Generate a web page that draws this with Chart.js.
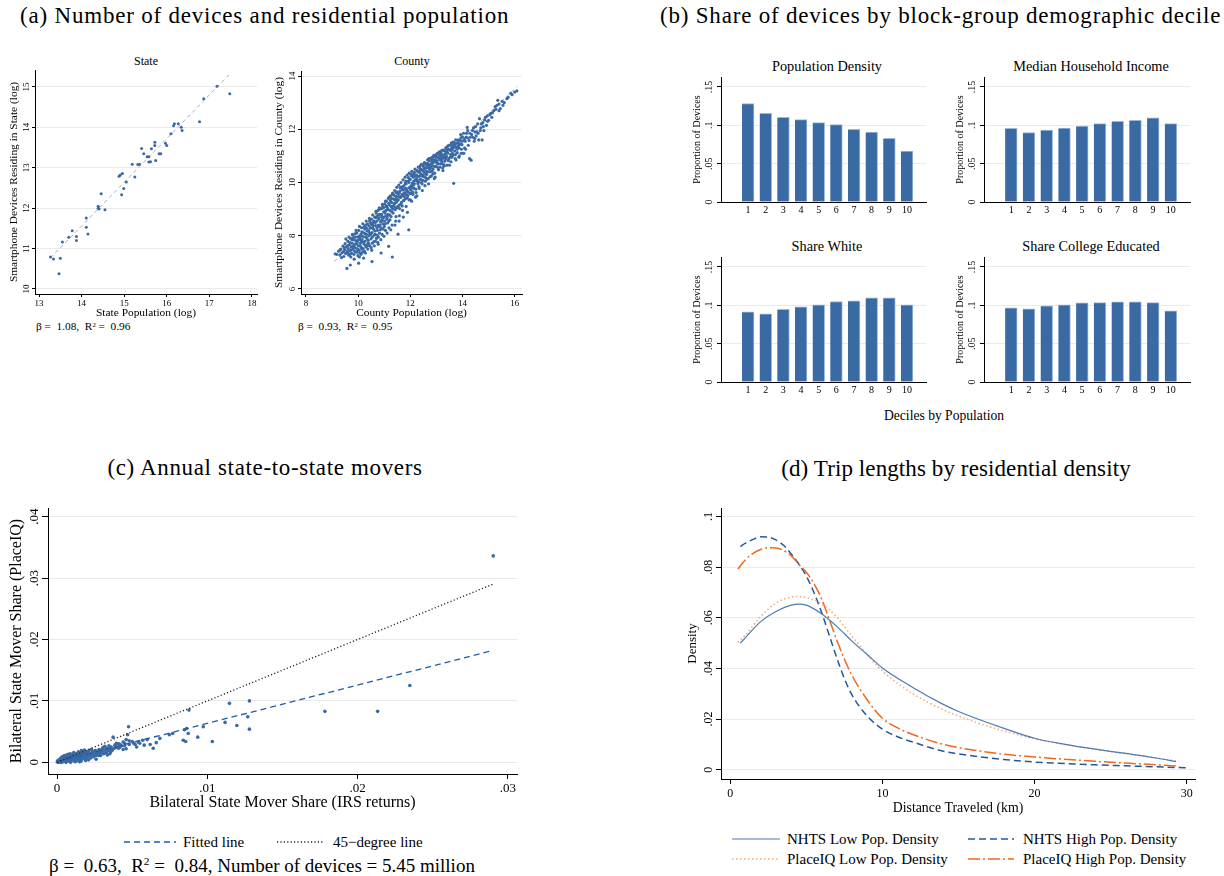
<!DOCTYPE html>
<html>
<head>
<meta charset="utf-8">
<script src="https://cdn.jsdelivr.net/npm/chart.js@4.4.0/dist/chart.umd.min.js"></script>
<style>
body{margin:0;background:#fff;width:1224px;height:876px;position:relative;overflow:hidden;font-family:"Liberation Serif","Times New Roman",serif;color:#000}
.t{position:absolute;white-space:nowrap;line-height:1;transform:translateY(-50%)}
.c{position:absolute;white-space:nowrap;line-height:1;transform:translate(-50%,-50%)}
canvas{position:absolute}
svg{position:absolute}
sup{font-size:60%;vertical-align:0.55em;line-height:0}
</style>
</head>
<body>
<div class="t" style="left:20px;top:15px;font-size:23px;letter-spacing:.8px">(a) Number of devices and residential population</div>
<div class="t" style="left:660px;top:15px;font-size:23px;letter-spacing:.8px">(b) Share of devices by block-group demographic decile</div>
<div class="c" style="left:146px;top:61px;font-size:12px">State</div>
<div class="c" style="left:412px;top:61px;font-size:12px">County</div>
<div class="t" style="left:36px;top:327px;font-size:11.3px">β = &nbsp;1.08, &nbsp;R<sup>2</sup> = &nbsp;0.96</div>
<div class="t" style="left:298px;top:327px;font-size:11.3px">β = &nbsp;0.93, &nbsp;R<sup>2</sup> = &nbsp;0.95</div>
<div class="c" style="left:827px;top:66px;font-size:14.3px">Population Density</div>
<div class="c" style="left:1091px;top:66px;font-size:14.3px">Median Household Income</div>
<div class="c" style="left:827px;top:246px;font-size:14.3px">Share White</div>
<div class="c" style="left:1091px;top:246px;font-size:14.3px">Share College Educated</div>
<div class="c" style="left:944px;top:416px;font-size:13.6px">Deciles by Population</div>
<div class="c" style="left:265px;top:467px;font-size:23px;letter-spacing:.65px">(c) Annual state-to-state movers</div>
<div class="c" style="left:956px;top:468px;font-size:23px;letter-spacing:.1px">(d) Trip lengths by residential density</div>

<svg style="left:124px;top:837px" width="52" height="10"><line x1="0" y1="5" x2="52" y2="5" stroke="#1f5da8" stroke-width="1.3" stroke-dasharray="6,4"/></svg>
<div class="t" style="left:183px;top:842px;font-size:15px">Fitted line</div>
<svg style="left:277px;top:837px" width="46" height="10"><line x1="0" y1="5" x2="46" y2="5" stroke="#222" stroke-width="1.3" stroke-dasharray="1.2,2.2"/></svg>
<div class="t" style="left:333px;top:842px;font-size:15px">45−degree line</div>
<div class="t" style="left:49px;top:865px;font-size:19px">β = &nbsp;0.63, &nbsp;R<sup>2</sup> = &nbsp;0.84, Number of devices = 5.45 million</div>

<svg style="left:732px;top:834px" width="48" height="10"><line x1="0" y1="5" x2="48" y2="5" stroke="#4b7bb5" stroke-width="1.2"/></svg>
<div class="t" style="left:787px;top:839px;font-size:15px">NHTS Low Pop. Density</div>
<svg style="left:968px;top:834px" width="46" height="10"><line x1="0" y1="5" x2="46" y2="5" stroke="#1f5aa0" stroke-width="1.5" stroke-dasharray="7,4"/></svg>
<div class="t" style="left:1023px;top:839px;font-size:15px">NHTS High Pop. Density</div>
<svg style="left:732px;top:854px" width="48" height="10"><line x1="0" y1="5" x2="48" y2="5" stroke="#f5a878" stroke-width="1.5" stroke-dasharray="1.5,2.5"/></svg>
<div class="t" style="left:787px;top:859px;font-size:15px">PlaceIQ Low Pop. Density</div>
<svg style="left:968px;top:854px" width="46" height="10"><line x1="0" y1="5" x2="46" y2="5" stroke="#f0681c" stroke-width="1.5" stroke-dasharray="12,3,2,3"/></svg>
<div class="t" style="left:1023px;top:859px;font-size:15px">PlaceIQ High Pop. Density</div>

<script>
const SERIF = '"Liberation Serif", "Times New Roman", serif';
const BLUE = '#3a6aa4';

// (a) state and county: log population vs log devices
const statePoints = [[13.27,10.79],[13.34,10.74],[13.50,10.76],[13.47,10.38],[13.55,11.16],[13.70,11.28],[13.78,11.44],[13.88,11.30],[13.88,11.20],[14.11,11.76],[14.11,11.53],[14.15,11.36],[14.39,12.05],[14.39,12.00],[14.41,11.98],[14.46,12.36],[14.55,11.96],[14.88,12.79],[14.91,12.82],[14.96,12.86],[14.94,12.33],[14.99,12.49],[15.05,12.65],[15.25,12.77],[15.19,13.09],[15.32,13.08],[15.36,13.09],[15.41,13.48],[15.46,13.35],[15.54,13.27],[15.58,13.27],[15.58,13.14],[15.62,13.15],[15.64,13.47],[15.72,13.63],[15.72,13.55],[15.74,13.18],[15.82,13.35],[15.86,13.35],[15.97,13.61],[16.00,13.55],[16.10,13.84],[16.16,14.04],[16.18,14.09],[16.27,14.09],[16.34,14.00],[16.36,13.92],[16.77,14.14],[16.87,14.71],[17.18,15.02],[17.48,14.83]];
const stateFit = [[13.27,10.77],[17.46,15.30]];
const stateXTicks = [13,14,15,16,17,18];
const stateYTicks = [10,11,12,13,14,15];

const countyPoints = [[9.12,7.32],[9.18,7.30],[9.25,7.42],[9.30,7.28],[9.31,7.47],[9.34,7.50],[9.38,7.36],[9.42,7.61],[9.45,7.22],[9.48,7.47],[9.50,7.70],[9.52,7.33],[9.55,7.58],[9.57,6.77],[9.58,7.41],[9.60,7.80],[9.62,7.52],[9.64,7.27],[9.65,7.95],[9.66,7.66],[9.68,7.44],[9.70,6.90],[9.71,7.90],[9.72,7.20],[9.73,7.58],[9.75,7.35],[9.77,7.72],[9.78,8.05],[9.79,7.49],[9.80,8.02],[9.82,7.62],[9.84,7.30],[9.85,7.12],[9.86,7.84],[9.88,7.55],[9.88,7.68],[9.90,7.95],[9.91,7.40],[9.92,8.20],[9.93,7.70],[9.95,8.10],[9.96,7.52],[9.97,7.77],[9.98,7.83],[9.99,7.25],[10.00,7.63],[10.02,6.97],[10.02,8.20],[10.04,7.45],[10.05,8.35],[10.06,7.92],[10.07,7.85],[10.08,7.71],[10.10,8.05],[10.11,7.30],[10.12,7.55],[10.13,8.30],[10.15,7.85],[10.16,7.98],[10.17,7.38],[10.18,8.45],[10.19,8.12],[10.21,7.16],[10.21,7.96],[10.23,7.68],[10.24,7.42],[10.25,8.25],[10.26,8.08],[10.27,7.80],[10.29,8.40],[10.30,7.58],[10.31,8.55],[10.32,8.05],[10.34,7.90],[10.35,8.18],[10.36,8.45],[10.37,7.50],[10.38,7.72],[10.40,8.18],[10.42,8.00],[10.43,8.65],[10.44,8.55],[10.45,7.62],[10.46,8.28],[10.47,8.30],[10.49,7.88],[10.50,7.55],[10.51,8.62],[10.53,7.03],[10.53,8.12],[10.55,7.95],[10.56,8.78],[10.57,8.48],[10.58,8.38],[10.59,8.25],[10.61,7.78],[10.62,7.62],[10.63,8.70],[10.65,8.05],[10.66,8.50],[10.67,8.38],[10.68,8.92],[10.69,8.85],[10.70,7.90],[10.72,8.55],[10.74,8.20],[10.75,7.75],[10.76,8.95],[10.77,7.68],[10.78,8.40],[10.79,8.62],[10.80,8.68],[10.81,9.05],[10.82,8.10],[10.84,9.00],[10.86,8.52],[10.87,7.85],[10.88,7.35],[10.88,8.30],[10.90,8.80],[10.91,8.72],[10.92,8.60],[10.93,9.18],[10.94,9.10],[10.96,8.25],[10.98,8.90],[10.99,7.98],[11.00,8.70],[11.02,9.20],[11.03,8.85],[11.04,8.45],[11.05,9.30],[11.06,8.95],[11.08,9.30],[11.10,8.62],[11.11,8.10],[11.12,9.05],[11.14,8.80],[11.15,8.98],[11.16,9.40],[11.17,7.60],[11.18,8.55],[11.19,9.45],[11.20,9.15],[11.22,8.95],[11.24,9.50],[11.25,8.22],[11.26,8.72],[11.27,9.10],[11.28,9.25],[11.30,9.05],[11.31,7.20],[11.32,9.60],[11.33,9.55],[11.34,8.85],[11.36,9.38],[11.38,9.15],[11.39,9.22],[11.40,9.70],[11.41,8.40],[11.42,8.98],[11.44,9.48],[11.46,9.25],[11.48,9.82],[11.49,9.65],[11.50,9.05],[11.51,9.32],[11.52,9.58],[11.53,8.06],[11.54,9.35],[11.56,9.90],[11.57,8.55],[11.58,9.15],[11.60,9.68],[11.62,9.45],[11.63,9.45],[11.64,10.00],[11.65,9.82],[11.66,9.25],[11.68,9.78],[11.70,9.55],[11.72,10.10],[11.73,8.70],[11.74,9.32],[11.75,9.58],[11.76,9.88],[11.78,9.62],[11.80,10.20],[11.81,9.98],[11.82,9.40],[11.84,9.95],[11.86,9.72],[11.87,9.68],[11.88,10.28],[11.89,8.88],[11.90,9.50],[11.92,10.05],[11.94,8.22],[11.94,9.80],[11.96,10.35],[11.97,10.10],[11.98,9.58],[11.99,9.82],[12.00,10.12],[12.03,9.88],[12.05,9.30],[12.06,10.42],[12.09,9.65],[12.12,10.20],[12.12,9.90],[12.14,10.30],[12.15,9.95],[12.18,10.50],[12.21,9.75],[12.24,10.28],[12.25,9.50],[12.27,10.05],[12.28,10.08],[12.30,10.58],[12.33,9.85],[12.35,10.55],[12.36,10.38],[12.39,10.12],[12.42,10.68],[12.44,10.25],[12.45,9.95],[12.46,9.70],[12.48,10.45],[12.51,10.22],[12.54,10.75],[12.57,10.05],[12.58,10.72],[12.60,10.55],[12.62,10.42],[12.63,10.30],[12.66,10.85],[12.69,10.15],[12.70,9.95],[12.72,10.65],[12.75,10.40],[12.78,10.92],[12.80,10.60],[12.81,10.25],[12.82,10.88],[12.84,10.72],[12.87,10.50],[12.90,11.02],[12.93,10.35],[12.95,10.20],[12.96,10.82],[12.98,10.78],[13.00,10.60],[13.04,11.10],[13.08,10.48],[13.10,11.05],[13.12,10.90],[13.16,10.70],[13.18,10.95],[13.20,11.20],[13.24,10.55],[13.25,10.45],[13.28,11.00],[13.32,10.80],[13.36,11.30],[13.38,11.25],[13.40,10.65],[13.40,11.15],[13.44,11.10],[13.48,10.90],[13.50,10.65],[13.52,11.40],[13.56,10.78],[13.58,11.30],[13.60,11.22],[13.62,11.40],[13.64,11.02],[13.66,9.97],[13.68,11.50],[13.72,10.90],[13.75,10.85],[13.76,11.32],[13.78,11.48],[13.80,11.12],[13.84,11.60],[13.88,11.00],[13.90,11.58],[13.92,11.45],[13.96,11.25],[14.00,11.72],[14.02,11.10],[14.05,11.10],[14.10,11.55],[14.15,11.85],[14.18,12.07],[14.22,11.40],[14.27,10.90],[14.30,11.70],[14.33,10.84],[14.38,11.95],[14.45,11.55],[14.47,11.65],[14.50,12.10],[14.55,11.90],[14.62,11.60],[14.65,12.40],[14.70,12.05],[14.75,11.60],[14.78,12.25],[14.85,12.35],[14.92,12.15],[15.00,12.34],[15.08,12.60],[15.20,12.70],[15.32,12.90],[15.35,13.09],[15.45,12.78],[15.60,13.00],[16.08,13.44],
[9.47,7.55],[9.53,7.88],[9.61,7.35],[9.67,7.75],[9.74,7.47],[9.81,7.92],[9.87,7.42],[9.94,7.80],[10.01,7.48],[10.03,7.98],[10.09,7.60],[10.14,8.15],[10.20,7.75],[10.22,8.32],[10.28,7.65],[10.33,8.28],[10.39,7.82],[10.41,8.38],[10.48,8.05],[10.52,8.42],[10.54,7.72],[10.60,8.55],[10.64,8.18],[10.71,8.72],[10.73,8.02],[10.79,8.35],[10.83,8.80],[10.85,8.22],[10.89,8.55],[10.95,8.45],[10.97,9.05],[11.01,8.55],[11.07,8.75],[11.09,9.12],[11.13,8.48],[11.21,8.78],[11.23,9.32],[11.29,8.90],[11.35,9.12],[11.37,9.52],[11.43,9.05],[11.45,8.72],[11.47,9.40],[11.55,9.48],[11.59,9.02],[11.61,9.80],[11.67,9.50],[11.69,9.12],[11.71,9.85],[11.77,9.35],[11.79,9.75],[11.83,10.05],[11.85,9.55],[11.91,9.65],[11.93,10.18],[11.95,9.35],[12.01,9.72],[12.04,10.25],[12.08,9.98],[12.10,9.55],[12.16,10.38],[12.19,10.08],[12.22,9.62],[12.26,10.45],[12.31,10.22],[12.34,9.78],[12.38,10.62],[12.41,10.32],[12.47,10.08],[12.50,10.62],[12.53,10.38],[12.56,9.88],[12.61,10.68],[12.64,10.12],[12.68,10.55],[12.73,10.82],[12.76,10.22],[12.79,10.70],[12.85,10.95],[12.89,10.62],[12.92,10.15],[12.97,10.95],[13.02,10.82],[13.06,10.55],[13.11,11.15],[13.14,10.58],[13.19,10.85],[13.22,11.05],[13.27,10.68],[13.31,11.18],[13.35,10.95],[13.42,11.35],[13.46,10.82],[13.54,11.20],[13.59,10.95],[13.63,11.52],[13.70,11.18],[13.74,11.60],[13.82,11.35],[13.86,10.95],[13.94,11.68],[13.98,11.42],[14.04,11.85],[14.08,11.30],[14.13,11.70],[14.20,11.95],[14.25,11.58],[14.35,11.80],[14.42,12.05],[14.52,11.75],[14.58,12.20],[14.68,11.95],[14.80,12.10],[14.88,12.45],[14.96,12.30],[15.12,12.45],[15.25,12.85],[15.40,12.95],[15.52,13.05],[15.75,13.20],[15.90,13.30],
[9.95,7.38],[10.05,7.20],[10.15,7.50],[10.28,7.35],[10.40,7.70],[10.52,7.45],[10.66,7.80],[10.78,7.95],[10.92,8.05],[11.05,8.20],[11.18,8.30],[11.30,8.40],[11.44,8.55],[11.58,8.75],[11.70,8.95],[11.84,9.10],[12.00,9.35],[12.20,9.45],
[9.36,7.18],[9.44,7.40],[9.59,7.62],[9.69,7.30],[9.76,7.85],[9.83,7.56],[9.89,8.08],[10.00,7.95],[10.06,7.36],[10.13,7.78],[10.19,7.52],[10.26,8.36],[10.31,7.95],[10.36,7.62],[10.44,8.10],[10.48,8.48],[10.55,8.30],[10.62,8.02],[10.67,8.68],[10.72,8.30],[10.77,8.78],[10.84,8.40],[10.90,9.02],[10.95,8.68],[11.00,8.35],[11.06,9.10],[11.12,8.70],[11.17,9.22],[11.22,8.60],[11.28,9.40],[11.33,9.00],[11.40,9.35],[11.45,9.62],[11.52,9.10],[11.58,9.60],[11.64,9.20],[11.70,9.72],[11.76,9.48],[11.82,9.78],[11.88,9.42],[11.95,10.00],[12.02,9.60],[12.08,10.30],[12.14,9.78],[12.20,10.25],[12.29,9.95],[12.37,10.45],[12.43,10.00],[12.52,10.55],[12.59,10.18],[12.67,10.72],[12.74,10.50],[12.83,10.42],[12.91,10.85],[13.00,10.95],[13.07,10.70],[13.15,11.02],[13.23,10.90],[13.30,10.62],[13.39,10.98],[13.47,11.25],[13.55,11.05],[13.65,11.30],[13.73,11.05],[13.85,11.40],[13.95,11.10],
[12.02,10.30],[12.07,9.80],[12.13,10.05],[12.17,10.28],[12.23,10.15],[12.29,10.40],[12.32,10.02],[12.37,10.25],[12.40,10.50],[12.43,10.48],[12.49,10.28],[12.52,10.70],[12.55,10.50],[12.59,10.32],[12.64,10.62],[12.67,10.40],[12.71,10.90],[12.74,10.62],[12.77,10.55],[12.83,10.80],[12.86,10.32],[12.88,10.75],[12.94,10.60],[12.99,11.05],[13.03,10.72],[13.06,10.95],[13.13,10.85],[13.17,11.12],[13.21,10.78],[13.26,11.22],[13.29,10.92],[13.34,11.08],[13.37,10.88],[13.43,11.22],[13.47,11.40],[13.53,10.95],[13.57,11.48],[13.61,11.10],[13.67,11.35],[13.71,11.42],[13.79,11.25],[13.83,11.50],[13.87,11.30],[13.93,11.80],[13.99,11.55],[14.07,11.62],[14.12,11.25],[14.19,11.68],[14.28,11.85],[14.40,11.70],[14.48,11.90],[14.60,11.85],[14.72,12.20],[14.82,11.95],[14.95,12.50],[15.05,12.55],[15.15,12.62],[15.28,12.75],[15.40,12.70],[15.55,12.90],[15.70,13.15],[15.85,13.35],[16.00,13.40]];
const countyFit = [[9.08,7.03],[16.10,13.61]];
const countyXTicks = [8,10,12,14,16];
const countyYTicks = [6,8,10,12,14];

// (b) share of devices by decile
const deciles = [1,2,3,4,5,6,7,8,9,10];
const popDensity = [.1283,.1157,.1104,.1074,.1035,.1009,.0948,.0913,.0830,.0665];
const medIncome = [.0961,.0904,.0939,.0965,.0991,.1022,.1052,.1065,.1096,.1022];
const shareWhite = [.0914,.0888,.0949,.0980,.1006,.1050,.1058,.1097,.1097,.1006];
const shareCollege = [.0966,.0953,.0993,.1006,.1032,.1036,.1045,.1045,.1036,.0927];
const shareTicks = [0,.05,.1,.15];
const shareLabels = ['0','.05','.1','.15'];

// (c) bilateral mover shares (IRS, PlaceIQ)
const moverPoints = [[.00002,.00005],[.00005,.0001],[.00008,.00002],[.0001,.0002],[.00012,.00008],[.00015,.0003],[.00018,.00012],[.0002,.0005],[.00022,.00018],[.00025,.0001],[.00028,.0004],[.0003,.00022],[.00033,.0006],[.00036,.00015],[.0004,.0008],[.00042,.0003],[.00045,.0005],[.0005,.0002],[.00052,.0007],[.00055,.00035],[.0006,.001],[.00062,.0004],[.00065,.00015],[.0007,.0006],[.00072,.0009],[.00075,.0003],[.0008,.0005],[.00082,.0011],[.00085,.0002],[.0009,.0007],[.00095,.0004],[.001,.0009],[.00102,.0013],[.00105,.0005],[.0011,.0003],[.00115,.0008],[.0012,.0011],[.00122,.0006],[.00128,.0002],[.0013,.0009],[.00135,.0013],[.0014,.0007],[.00145,.0004],[.0015,.001],[.00155,.0015],[.0016,.0008],[.00165,.0005],[.0017,.0012],[.00175,.0009],[.0018,.0016],[.00185,.0006],[.0019,.0011],[.00195,.0014],[.002,.0008],[.0021,.0013],[.00212,.0019],[.0022,.001],[.00225,.0007],[.0023,.0015],[.00235,.0012],[.0024,.0018],[.00245,.0009],[.0025,.0014],[.0026,.0011],[.00265,.0017],[.0027,.0013],[.0028,.0021],[.00285,.0015],[.0029,.0011],[.003,.0018],[.00305,.0024],[.0031,.0014],[.0032,.002],[.00322,.0016],[.0033,.0023],[.00335,.0012],[.0034,.0019],[.0035,.0022],[.00355,.0017],[.0036,.0025],[.0037,.0021],[.00373,.0041],[.00385,.0028],[.0039,.0026],[.004,.0024],[.0041,.003],[.0042,.0029],[.0043,.0027],[.0044,.0033],[.0045,.0031],[.0046,.0037],[.0047,.0045],[.0048,.0029],[.00476,.0058],[.0046,.0022],[.0044,.0021],[.0041,.0023],[.0026,.0005],[.0021,.0004],[.0016,.0002],[.0012,.0001],[.0006,.0000],[.0003,.0000],[.0009,.0000],[.0015,.0001],[.0019,.0003],[.0052,.0029],[.005,.0034],[.0053,.0025],[.0055,.0031],[.0057,.0036],[.006,.0037],[.0062,.0029],[.0064,.0023],[.0066,.0032],[.00684,.0039],[.00747,.0045],[.00769,.0047],[.00847,.0053],[.00856,.0034],[.00862,.0055],[.0084,.0036],[.00873,.0047],[.00878,.0085],[.00936,.0041],[.00973,.0058],[.01033,.0034],[.01118,.0065],[.01147,.0096],[.01196,.006],[.01269,.0074],[.0128,.01],[.0128,.0054],[.01782,.0083],[.02133,.0083],[.02347,.0125],[.02902,.0336],
[.00004,.00025],[.00007,.00015],[.00011,.00035],[.00014,.00005],[.00017,.00045],[.00021,.0003],[.00024,.00065],[.00027,.0002],[.00031,.0005],[.00034,.0009],[.00038,.0004],[.00041,.00012],[.00044,.0007],[.00048,.0011],[.00051,.00045],[.00054,.0009],[.00058,.00025],[.00061,.0007],[.00064,.0012],[.00068,.0004],[.00071,.0008],[.00074,.0013],[.00078,.0006],[.00081,.00025],[.00084,.0009],[.00088,.0014],[.00091,.0005],[.00094,.001],[.00098,.0007],[.00108,.0012],[.00112,.0016],[.00118,.0004],[.00125,.0014],[.00132,.0006],[.00138,.0011],[.00142,.0017],[.00148,.0008],[.00152,.0013],[.00158,.0011],[.00162,.0019],[.00168,.0009],[.00172,.0015],[.00178,.0012],[.00182,.002],[.00188,.0009],[.00192,.0017],[.00198,.0011],[.00205,.0016],[.00215,.0011],[.00228,.0021],[.00238,.0015],[.00248,.0012],[.00255,.0019],[.00262,.0015],[.00272,.0018],[.00278,.0011],[.00292,.0016],[.00298,.0021],[.00312,.0019],[.00318,.0026],[.00328,.0015],[.00345,.0027],[.00352,.0014],[.00365,.0019],[.0038,.0023],[.00395,.0031],[.0042,.0025],[.0045,.0027],[.0048,.0035],[.0051,.0031],[.0054,.0033],[.0058,.0028]];
const moverFit = [[0,.0001],[.029,.0182]];
const moverDiag = [[0,0],[.029,.029]];
const moverXTicks = [0,.01,.02,.03];
const moverXLabels = ['0','.01','.02','.03'];
const moverYTicks = [0,.01,.02,.03,.04];
const moverYLabels = ['0','.01','.02','.03','.04'];

// (d) trip length densities
const nhtsLowKm = [0.66,1,2,3,4,4.5,5,6,7,8,9,10,12,14,15,16,18,20,22,24,26,28,29.3];
const nhtsLow = [.0500,.0522,.0585,.0625,.0650,.0654,.0650,.0616,.0566,.0508,.0455,.0402,.0325,.0258,.0230,.0206,.0163,.0124,.0100,.0081,.0064,.0046,.0032];
const nhtsHighKm = [0.66,1,1.5,2,2.5,3,3.5,4,4.5,5,5.5,6,6.5,7,7.5,8,9,10,11,12,14,16,18,20,22,24,26,28,30];
const nhtsHigh = [.0882,.0895,.0910,.0920,.0919,.0908,.0887,.0853,.0813,.0765,.0700,.0622,.0532,.0442,.0360,.0295,.0212,.0160,.0130,.0109,.0073,.0054,.0040,.0030,.0024,.0019,.0015,.0011,.0007];
const placeLowKm = [0.5,1,2,3,4,4.5,5,6,7,8,9,10,12,14,16,18,20,22,24,26,28,29.5];
const placeLow = [.0503,.0532,.0605,.0658,.0682,.0684,.0680,.0655,.0603,.0527,.0455,.0390,.0300,.0237,.0190,.0153,.0122,.0099,.0080,.0063,.0046,.0033];
const placeHighKm = [0.5,1,1.5,2,2.5,3,3.5,4,4.5,5,5.5,6,6.5,7,7.5,8,9,10,11,12,14,16,18,20,22,24,26,28,29.5];
const placeHigh = [.0793,.0830,.0855,.0870,.0877,.0876,.0866,.0846,.0812,.0780,.0735,.0675,.0595,.0512,.0437,.0372,.0276,.0203,.0165,.0139,.0100,.0077,.0061,.0050,.0041,.0033,.0026,.0019,.0014];
const tripXTicks = [0,10,20,30];
const tripYTicks = [0,.02,.04,.06,.08,.1];
const tripYLabels = ['0','.02','.04','.06','.08','.1'];

// rotated y tick labels, like Stata
const vTicks = {
  id: 'vTicks',
  afterDraw(chart, args, o) {
    const s = chart.scales.y;
    if (!s || !o.size) return;
    const ctx = chart.ctx;
    ctx.save();
    ctx.font = o.size + 'px ' + SERIF;
    ctx.fillStyle = '#000';
    ctx.textAlign = 'center';
    ctx.textBaseline = 'alphabetic';
    s.ticks.forEach(t => {
      ctx.save();
      ctx.translate(s.right - o.off, s.getPixelForValue(t.value));
      ctx.rotate(-Math.PI / 2);
      ctx.fillText(t.label, 0, 0);
      ctx.restore();
    });
    ctx.restore();
  }
};
Chart.register(vTicks);

const pts = arr => arr.map(p => ({ x: p[0], y: p[1] }));
const xy = (xs, ys) => xs.map((v, i) => ({ x: v, y: ys[i] }));

function draw(b, type, datasets, xs, ys) {
  const c = document.createElement('canvas');
  const w = b.right + b.pr - b.cl, h = b.ay + b.xh - b.ct;
  c.width = w; c.height = h;
  c.style.left = b.cl + 'px'; c.style.top = b.ct + 'px';
  c.style.width = w + 'px'; c.style.height = h + 'px';
  document.body.appendChild(c);
  const yw = b.ax - b.cl;
  const x = {
    type: 'linear', min: xs.min, max: xs.max,
    afterFit: s => { s.height = b.xh; },
    afterBuildTicks: s => { s.ticks = xs.ticks.map(v => ({ value: v })); },
    ticks: { callback: (v, i) => xs.labels[i], font: { family: SERIF, size: xs.fs }, color: '#000', padding: xs.pad, maxRotation: 0, minRotation: 0, autoSkip: false },
    grid: { drawOnChartArea: false, drawTicks: xs.tl > 0, tickLength: xs.tl, tickColor: '#000' },
    border: { color: '#000' },
    title: xs.title ? { display: true, text: xs.title, color: '#000', font: { family: SERIF, size: xs.tfs },
      padding: { top: 0, bottom: Math.max(0, b.ay + b.xh - xs.tcy - xs.tfs * 0.6) } } : { display: false }
  };
  const y = {
    type: 'linear', min: ys.min, max: ys.max,
    afterFit: s => { s.width = yw; },
    afterBuildTicks: s => { s.ticks = ys.ticks.map(v => ({ value: v })); },
    ticks: { display: false, callback: (v, i) => ys.labels[i] },
    grid: { color: '#eaeaea', tickColor: '#000', tickLength: ys.tl },
    border: { color: '#000' },
    title: { display: true, text: ys.title, color: '#000', font: { family: SERIF, size: ys.tfs },
      padding: { top: Math.max(0, ys.tcx - b.cl - ys.tfs * 0.6), bottom: 0 } }
  };
  return new Chart(c, {
    type: type,
    data: { datasets: datasets },
    options: {
      responsive: false, animation: false, devicePixelRatio: 1,
      layout: { padding: { left: 0, top: b.top - b.ct, right: b.pr, bottom: 0 } },
      plugins: { legend: { display: false }, tooltip: { enabled: false }, vTicks: { size: ys.fs, off: ys.off } },
      scales: { x: x, y: y }
    }
  });
}

function dots(data, r) {
  return { data: pts(data), backgroundColor: BLUE, borderWidth: 0, pointRadius: r, showLine: false };
}
function fitLine(data, color, dash, width) {
  return { data: pts(data), showLine: true, borderColor: color, borderWidth: width, borderDash: dash, pointRadius: 0, fill: false };
}

// (a)
draw({ cl: 0, ct: 62, ax: 35, ay: 294, top: 70, right: 257, pr: 8, xh: 40 }, 'scatter',
  [dots(statePoints, 1.5), fitLine(stateFit, '#9fb0c8', [4, 3], 1)],
  { min: 12.906, max: 18.12, ticks: stateXTicks, labels: stateXTicks.map(String), fs: 9, pad: 1, tl: 3, title: 'State Population (log)', tfs: 11.4, tcy: 313 },
  { min: 9.876, max: 15.42, ticks: stateYTicks, labels: stateYTicks.map(String), fs: 9, off: 6.5, tl: 3, title: 'Smartphone Devices Residing in State (log)', tfs: 11.4, tcx: 14 });

draw({ cl: 265, ct: 62, ax: 301, ay: 294, top: 71, right: 522, pr: 8, xh: 40 }, 'scatter',
  [dots(countyPoints, 1.6), fitLine(countyFit, '#9fb0c8', [4, 3], 1)],
  { min: 7.81, max: 16.28, ticks: countyXTicks, labels: countyXTicks.map(String), fs: 9, pad: 1, tl: 3, title: 'County Population (log)', tfs: 11.4, tcy: 313 },
  { min: 5.81, max: 14.19, ticks: countyYTicks, labels: countyYTicks.map(String), fs: 9, off: 6, tl: 3, title: 'Smartphone Devices Residing in County (log)', tfs: 11.4, tcx: 279 });

// (b)
function bars(b, vals, tcx) {
  draw(b, 'bar',
    [{ data: xy(deciles, vals), backgroundColor: BLUE, borderColor: '#9db9da', borderWidth: { top: 1, right: 1, left: 0, bottom: 0 }, borderSkipped: 'start', barThickness: 12 }],
    { min: 0.05, max: 10.5, ticks: deciles, labels: deciles.map(String), fs: 10, pad: 2, tl: 0 },
    { min: 0, max: .163, ticks: shareTicks, labels: shareLabels, fs: 10, off: 9, tl: 4, title: 'Proportion of Devices', tfs: 10, tcx: tcx });
}
bars({ cl: 680, ct: 70, ax: 721, ay: 202, top: 77, right: 926, pr: 8, xh: 22 }, popDensity, 697);
bars({ cl: 944, ct: 70, ax: 984, ay: 202, top: 77, right: 1190, pr: 8, xh: 22 }, medIncome, 960.5);
bars({ cl: 680, ct: 250, ax: 721, ay: 382, top: 257, right: 926, pr: 8, xh: 22 }, shareWhite, 697);
bars({ cl: 944, ct: 250, ax: 984, ay: 382, top: 257, right: 1190, pr: 8, xh: 22 }, shareCollege, 960.5);

// (c)
draw({ cl: 0, ct: 500, ax: 48, ay: 774, top: 508, right: 517, pr: 12, xh: 45 }, 'scatter',
  [fitLine(moverDiag, '#222', [1.2, 2.2], 1.3), fitLine(moverFit, '#1f5da8', [6, 4], 1.3), dots(moverPoints, 1.8)],
  { min: -0.0006, max: .0306, ticks: moverXTicks, labels: moverXLabels, fs: 13, pad: 2, tl: 5, title: 'Bilateral State Mover Share (IRS returns)', tfs: 16, tcy: 803 },
  { min: -0.0019, max: .0414, ticks: moverYTicks, labels: moverYLabels, fs: 13, off: 10, tl: 6, title: 'Bilateral State Mover Share (PlaceIQ)', tfs: 16, tcx: 16.5 });

// (d)
function curve(xs, ys, color, dash, width) {
  return { data: xy(xs, ys), showLine: true, borderColor: color, borderWidth: width, borderDash: dash, pointRadius: 0, fill: false, cubicInterpolationMode: 'monotone' };
}
draw({ cl: 680, ct: 500, ax: 721, ay: 779, top: 508, right: 1195, pr: 12, xh: 40 }, 'scatter',
  [curve(nhtsLowKm, nhtsLow, '#4b7bb5', [], 1.2),
   curve(placeLowKm, placeLow, '#f5a878', [1.5, 2.5], 1.5),
   curve(placeHighKm, placeHigh, '#f0681c', [12, 3, 2, 3], 1.5),
   curve(nhtsHighKm, nhtsHigh, '#1f5aa0', [7, 4], 1.5)],
  { min: -0.61, max: 30.55, ticks: tripXTicks, labels: tripXTicks.map(String), fs: 12, pad: 3, tl: 5, title: 'Distance Traveled (km)', tfs: 13.8, tcy: 808 },
  { min: -0.0037, max: .1034, ticks: tripYTicks, labels: tripYLabels, fs: 12, off: 9, tl: 5, title: 'Density', tfs: 13, tcx: 693 });
</script>
</body>
</html>
